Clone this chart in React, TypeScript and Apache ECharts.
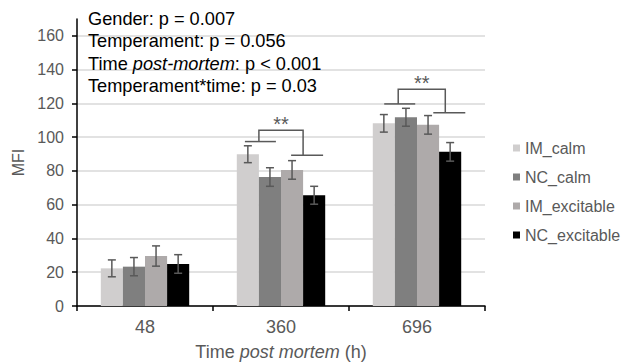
import React, { useEffect, useRef } from "react";
import * as echarts from "echarts";

const categories = ["48", "360", "696"];
const seriesNames = ["IM_calm", "NC_calm", "IM_excitable", "NC_excitable"];
const imCalm = [22.3, 89.9, 108.2];
const ncCalm = [23.3, 76.4, 111.8];
const imExcitable = [29.6, 80.6, 107.3];
const ncExcitable = [24.9, 65.6, 91.3];
const imCalmErr = [5.0, 5.0, 5.2];
const ncCalmErr = [5.4, 5.5, 5.3];
const imExcitableErr = [6.0, 5.5, 5.5];
const ncExcitableErr = [5.5, 5.3, 5.5];
const yTicks = [0, 20, 40, 60, 80, 100, 120, 140, 160];
// significance brackets: category index, left low level, top level, right low level
const bracketCats = [1, 2];
const bracketLeftLow = [97.4, 119.7];
const bracketTop = [104.1, 128.4];
const bracketRightLow = [89.3, 114.5];
const bracketLabel = ["**", "**"];

const colors = ["#d0cece", "#7f7f7f", "#aeaaaa", "#000000"];
const FONT = "'Liberation Sans', Arial, sans-serif";
const GAP = 0.35;
const bracketShape = [
  { l: -1.0, r: 1.0 },
  { l: -0.85, r: 1.28 },
];

export default function App() {
  const ref = useRef<HTMLDivElement>(null);
  useEffect(() => {
    if (!ref.current) return;
    const chart = echarts.init(ref.current, undefined, { renderer: "svg" });
    const values = [imCalm, ncCalm, imExcitable, ncExcitable];
    const errs = [imCalmErr, ncCalmErr, imExcitableErr, ncExcitableErr];

    const barSeries = seriesNames.map((name, k) => ({
      name,
      type: "bar",
      data: values[k],
      barGap: "0%",
      barCategoryGap: "35%",
      itemStyle: { color: colors[k] },
      z: 2,
    }));

    const errSeries = seriesNames.map((name, k) => ({
      type: "custom",
      name: name + "_err",
      z: 4,
      data: values[k].map((v, i) => [i, v - errs[k][i], v + errs[k][i]]),
      renderItem: (params: any, api: any) => {
        const bw = api.size([1, 0])[0];
        const groupW = bw * (1 - GAP);
        const barW = groupW / 4;
        const cx = api.coord([api.value(0), 0])[0] - groupW / 2 + barW * (k + 0.5);
        const yLo = api.coord([api.value(0), api.value(1)])[1];
        const yHi = api.coord([api.value(0), api.value(2)])[1];
        const cap = 4;
        const style = { stroke: "#595959", lineWidth: 1.5, fill: null };
        return {
          type: "group",
          children: [
            { type: "line", shape: { x1: cx, y1: yLo, x2: cx, y2: yHi }, style },
            { type: "line", shape: { x1: cx - cap, y1: yHi, x2: cx + cap, y2: yHi }, style },
            { type: "line", shape: { x1: cx - cap, y1: yLo, x2: cx + cap, y2: yLo }, style },
          ],
        };
      },
    }));

    const bracketSeries = {
      type: "custom",
      name: "brackets",
      z: 5,
      data: bracketCats.map((c, i) => [c, bracketLeftLow[i], bracketTop[i], bracketRightLow[i], i]),
      renderItem: (params: any, api: any) => {
        const i = api.value(4);
        const bw = api.size([1, 0])[0];
        const barW = (bw * (1 - GAP)) / 4;
        const c = api.value(0);
        const cx = api.coord([c, 0])[0];
        const xl = cx + barW * bracketShape[i].l;
        const xr = cx + barW * bracketShape[i].r;
        const yl = api.coord([c, api.value(1)])[1];
        const yt = api.coord([c, api.value(2)])[1];
        const yr = api.coord([c, api.value(3)])[1];
        const style = { stroke: "#595959", lineWidth: 1.5, fill: null };
        return {
          type: "group",
          children: [
            { type: "line", shape: { x1: xl - 14, y1: yl, x2: xl + 17, y2: yl }, style },
            { type: "polyline", shape: { points: [[xl, yl], [xl, yt], [xr, yt], [xr, yr]] }, style },
            { type: "line", shape: { x1: xr - 12, y1: yr, x2: xr + 20, y2: yr }, style },
            {
              type: "text",
              style: {
                text: bracketLabel[i],
                x: (xl + xr) / 2,
                y: yt - 6,
                align: "center",
                verticalAlign: "middle",
                fontSize: 20,
                fontWeight: "normal",
                fontFamily: FONT,
                fill: "#595959",
              },
            },
          ],
        };
      },
    };

    const option: any = {
      animation: false,
      textStyle: { fontFamily: FONT },
      title: {
        left: 88,
        top: 8,
        padding: 0,
        text:
          "{a|Gender: p = 0.007}\n{a|Temperament: p = 0.056}\n{a|Time }{i|post-mortem}{a|: p < 0.001}\n{a|Temperament*time: p = 0.03}",
        textStyle: {
          fontSize: 18.2,
          fontWeight: "normal",
          color: "#000",
          lineHeight: 22.3,
          fontFamily: FONT,
          rich: {
            a: { fontSize: 18.2, color: "#000", fontFamily: FONT, lineHeight: 22.3 },
            i: { fontSize: 18.2, color: "#000", fontFamily: FONT, fontStyle: "italic", lineHeight: 22.3 },
          },
        },
      },
      legend: {
        data: seriesNames,
        orient: "vertical",
        left: 513,
        top: 140,
        padding: 0,
        icon: "rect",
        itemWidth: 7,
        itemHeight: 7,
        itemGap: 13,
        textStyle: { fontSize: 16, color: "#595959", fontFamily: FONT, lineHeight: 16 },
      },
      grid: { left: 77, right: 142, top: 19, bottom: 56, containLabel: false, outerBoundsMode: "none" },
      xAxis: {
        type: "category",
        data: categories,
        axisLine: { show: true, lineStyle: { color: "#000", width: 1.5 } },
        axisTick: { show: true, length: 5, lineStyle: { color: "#000", width: 1.5 } },
        axisLabel: { fontSize: 18, color: "#595959", margin: 12, fontFamily: FONT },
        name: "{a|Time }{i|post mortem}{a| (h)}",
        nameLocation: "middle",
        nameGap: 37,
        nameTextStyle: {
          fontSize: 18,
          color: "#595959",
          rich: {
            a: { fontSize: 18, color: "#595959", fontFamily: FONT },
            i: { fontSize: 18, color: "#595959", fontFamily: FONT, fontStyle: "italic" },
          },
        },
      },
      yAxis: {
        type: "value",
        min: 0,
        max: 170,
        interval: 20,
        name: "MFI",
        nameLocation: "middle",
        nameGap: 45,
        nameTextStyle: { fontSize: 16, color: "#595959", fontFamily: FONT },
        axisLine: { show: true, lineStyle: { color: "#000", width: 1.5 } },
        axisTick: { show: true, length: 5, customValues: yTicks, lineStyle: { color: "#000", width: 1.5 } },
        axisLabel: { fontSize: 16, color: "#595959", margin: 13, customValues: yTicks, fontFamily: FONT },
        splitLine: { show: true, lineStyle: { color: "#d9d9d9", width: 1.5 } },
      },
      series: [...barSeries, ...errSeries, bracketSeries],
    };
    chart.setOption(option);
    return () => chart.dispose();
  }, []);
  return (
    <div
      ref={ref}
      style={{ position: "fixed", left: 0, top: 0, width: 627, height: 362, background: "#fff" }}
    />
  );
}
